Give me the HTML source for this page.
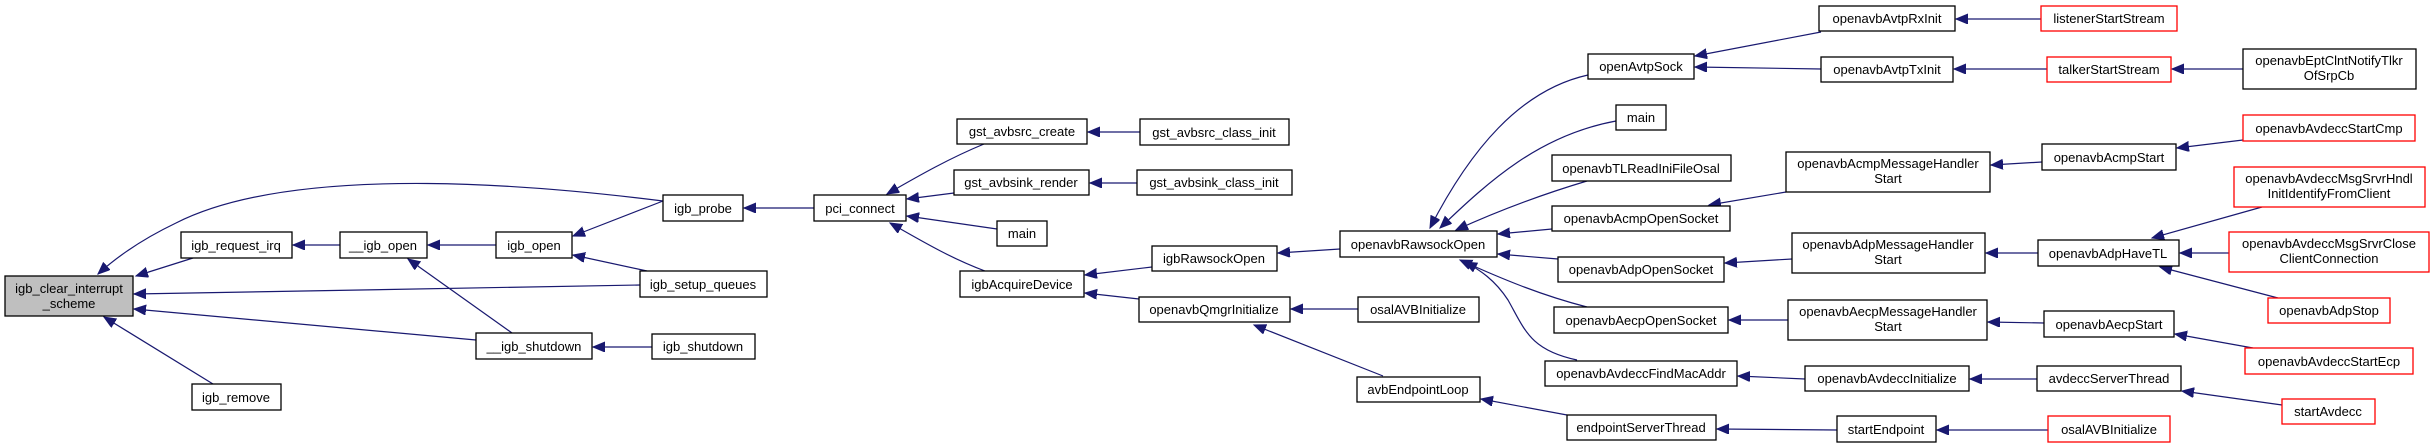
<!DOCTYPE html>
<html><head><meta charset="utf-8"><style>
html,body{margin:0;padding:0;background:#fff;}
svg{display:block;}
text{font-family:"Liberation Sans",Arial,sans-serif;font-size:13px;fill:#000;text-anchor:middle;}
.n{fill:#fff;stroke:#000;stroke-width:1.3;}
.r{fill:#fff;stroke:#ff0000;stroke-width:1.3;}
.g{fill:#bfbfbf;stroke:#000;stroke-width:1.3;}
.e{fill:none;stroke:#191970;stroke-width:1.2;marker-end:url(#a);}
</style></head><body>
<svg width="2431" height="448" viewBox="0 0 2431 448" xmlns="http://www.w3.org/2000/svg">
<defs><marker id="a" markerUnits="userSpaceOnUse" markerWidth="14" markerHeight="12" refX="12" refY="5" orient="auto"><path d="M0,0 L12,5 L0,10 z" fill="#191970" stroke="#191970"/></marker></defs>

<!-- edges -->
<path class="e" d="M193,258 L136,276"/>
<path class="e" d="M663,201 C560,188 300,160 176,223 Q130,245 98,274"/>
<path class="e" d="M640,285 L134,294"/>
<path class="e" d="M476,340 L134,309"/>
<path class="e" d="M213,384 L104,317"/>
<path class="e" d="M340,245 L293,245"/>
<path class="e" d="M496,245 L428,245"/>
<path class="e" d="M512,333 L408,259"/>
<path class="e" d="M663,201 L573,236"/>
<path class="e" d="M647,271 L573,255"/>
<path class="e" d="M652,347 L593,347"/>
<path class="e" d="M814,208 L744,208"/>
<path class="e" d="M984,144 C950,158 920,175 887,194"/>
<path class="e" d="M954,193 L907,199"/>
<path class="e" d="M997,229 L907,216"/>
<path class="e" d="M985,271 C950,258 920,240 890,223"/>
<path class="e" d="M1140,132 L1088,132"/>
<path class="e" d="M1137,183 L1090,183"/>
<path class="e" d="M1152,267 L1085,275"/>
<path class="e" d="M1139,299 L1085,293"/>
<path class="e" d="M1340,249 L1278,253"/>
<path class="e" d="M1358,309 L1291,309"/>
<path class="e" d="M1383,376 L1254,325"/>
<path class="e" d="M1567,415 L1481,399"/>
<path class="e" d="M1588,75 C1520,90 1470,150 1430,228"/>
<path class="e" d="M1616,121 C1540,135 1490,180 1440,228"/>
<path class="e" d="M1587,181 C1540,195 1500,210 1456,230"/>
<path class="e" d="M1552,229 L1498,234"/>
<path class="e" d="M1558,259 L1498,254"/>
<path class="e" d="M1587,307 C1540,295 1500,278 1460,260"/>
<path class="e" d="M1577,360 C1530,350 1525,330 1508,300 C1495,280 1480,270 1465,262"/>
<path class="e" d="M1821,32 L1695,56"/>
<path class="e" d="M1821,69 L1695,67"/>
<path class="e" d="M2041,19 L1956,19"/>
<path class="e" d="M2047,69 L1954,69"/>
<path class="e" d="M2243,69 L2172,69"/>
<path class="e" d="M1786,192 L1709,205"/>
<path class="e" d="M2042,162 L1991,165"/>
<path class="e" d="M2243,140 L2177,148"/>
<path class="e" d="M1792,259 L1725,263"/>
<path class="e" d="M2038,253 L1986,253"/>
<path class="e" d="M2262,207 L2152,238"/>
<path class="e" d="M2229,253 L2180,253"/>
<path class="e" d="M2278,298 L2160,267"/>
<path class="e" d="M1788,320 L1729,320"/>
<path class="e" d="M2044,323 L1988,322"/>
<path class="e" d="M2253,348 L2175,334"/>
<path class="e" d="M1805,379 L1738,376"/>
<path class="e" d="M2037,379 L1970,379"/>
<path class="e" d="M2282,405 L2182,391"/>
<path class="e" d="M1837,430 L1717,429"/>
<path class="e" d="M2048,430 L1937,430"/>

<!-- nodes -->
<rect class="g" x="5" y="276" width="128" height="40"/><text x="69" y="293">igb_clear_interrupt</text><text x="69" y="308">_scheme</text>
<rect class="n" x="181" y="232" width="111" height="26"/><text x="236" y="250">igb_request_irq</text>
<rect class="n" x="340" y="232" width="87" height="26"/><text x="383" y="250">__igb_open</text>
<rect class="n" x="496" y="232" width="76" height="26"/><text x="534" y="250">igb_open</text>
<rect class="n" x="663" y="195" width="80" height="26"/><text x="703" y="213">igb_probe</text>
<rect class="n" x="640" y="271" width="127" height="26"/><text x="703" y="289">igb_setup_queues</text>
<rect class="n" x="476" y="333" width="116" height="26"/><text x="534" y="351">__igb_shutdown</text>
<rect class="n" x="652" y="334" width="103" height="25"/><text x="703" y="351">igb_shutdown</text>
<rect class="n" x="192" y="384" width="89" height="26"/><text x="236" y="402">igb_remove</text>
<rect class="n" x="814" y="195" width="92" height="26"/><text x="860" y="213">pci_connect</text>
<rect class="n" x="957" y="119" width="130" height="25"/><text x="1022" y="136">gst_avbsrc_create</text>
<rect class="n" x="954" y="170" width="135" height="25"/><text x="1021" y="187">gst_avbsink_render</text>
<rect class="n" x="997" y="221" width="50" height="25"/><text x="1022" y="238">main</text>
<rect class="n" x="960" y="271" width="124" height="26"/><text x="1022" y="289">igbAcquireDevice</text>
<rect class="n" x="1140" y="119" width="149" height="26"/><text x="1214" y="137">gst_avbsrc_class_init</text>
<rect class="n" x="1137" y="170" width="155" height="25"/><text x="1214" y="187">gst_avbsink_class_init</text>
<rect class="n" x="1152" y="246" width="125" height="25"/><text x="1214" y="263">igbRawsockOpen</text>
<rect class="n" x="1139" y="297" width="151" height="25"/><text x="1214" y="314">openavbQmgrInitialize</text>
<rect class="n" x="1340" y="231" width="157" height="26"/><text x="1418" y="249">openavbRawsockOpen</text>
<rect class="n" x="1358" y="297" width="121" height="25"/><text x="1418" y="314">osalAVBInitialize</text>
<rect class="n" x="1357" y="377" width="123" height="25"/><text x="1418" y="394">avbEndpointLoop</text>
<rect class="n" x="1588" y="54" width="106" height="25"/><text x="1641" y="71">openAvtpSock</text>
<rect class="n" x="1616" y="105" width="50" height="25"/><text x="1641" y="122">main</text>
<rect class="n" x="1552" y="155" width="179" height="26"/><text x="1641" y="173">openavbTLReadIniFileOsal</text>
<rect class="n" x="1552" y="206" width="178" height="25"/><text x="1641" y="223">openavbAcmpOpenSocket</text>
<rect class="n" x="1558" y="257" width="166" height="25"/><text x="1641" y="274">openavbAdpOpenSocket</text>
<rect class="n" x="1554" y="307" width="174" height="26"/><text x="1641" y="325">openavbAecpOpenSocket</text>
<rect class="n" x="1545" y="361" width="192" height="25"/><text x="1641" y="378">openavbAvdeccFindMacAddr</text>
<rect class="n" x="1567" y="415" width="149" height="25"/><text x="1641" y="432">endpointServerThread</text>
<rect class="n" x="1819" y="6" width="136" height="25"/><text x="1887" y="23">openavbAvtpRxInit</text>
<rect class="n" x="1821" y="57" width="132" height="25"/><text x="1887" y="74">openavbAvtpTxInit</text>
<rect class="n" x="1786" y="152" width="204" height="40"/><text x="1888" y="168">openavbAcmpMessageHandler</text><text x="1888" y="183">Start</text>
<rect class="n" x="1792" y="233" width="193" height="40"/><text x="1888" y="249">openavbAdpMessageHandler</text><text x="1888" y="264">Start</text>
<rect class="n" x="1788" y="300" width="199" height="40"/><text x="1888" y="316">openavbAecpMessageHandler</text><text x="1888" y="331">Start</text>
<rect class="n" x="1805" y="366" width="164" height="25"/><text x="1887" y="383">openavbAvdeccInitialize</text>
<rect class="n" x="1837" y="416" width="99" height="26"/><text x="1886" y="434">startEndpoint</text>
<rect class="r" x="2041" y="6" width="136" height="25"/><text x="2109" y="23">listenerStartStream</text>
<rect class="r" x="2047" y="57" width="124" height="25"/><text x="2109" y="74">talkerStartStream</text>
<rect class="n" x="2042" y="144" width="134" height="26"/><text x="2109" y="162">openavbAcmpStart</text>
<rect class="n" x="2038" y="240" width="141" height="26"/><text x="2108" y="258">openavbAdpHaveTL</text>
<rect class="n" x="2044" y="311" width="130" height="26"/><text x="2109" y="329">openavbAecpStart</text>
<rect class="n" x="2037" y="366" width="144" height="25"/><text x="2109" y="383">avdeccServerThread</text>
<rect class="r" x="2048" y="416" width="122" height="26"/><text x="2109" y="434">osalAVBInitialize</text>
<rect class="n" x="2243" y="49" width="173" height="40"/><text x="2329" y="65">openavbEptClntNotifyTlkr</text><text x="2329" y="80">OfSrpCb</text>
<rect class="r" x="2243" y="115" width="172" height="26"/><text x="2329" y="133">openavbAvdeccStartCmp</text>
<rect class="r" x="2234" y="167" width="191" height="40"/><text x="2329" y="183">openavbAvdeccMsgSrvrHndl</text><text x="2329" y="198">InitIdentifyFromClient</text>
<rect class="r" x="2229" y="232" width="200" height="40"/><text x="2329" y="248">openavbAvdeccMsgSrvrClose</text><text x="2329" y="263">ClientConnection</text>
<rect class="r" x="2268" y="298" width="122" height="25"/><text x="2329" y="315">openavbAdpStop</text>
<rect class="r" x="2245" y="348" width="168" height="26"/><text x="2329" y="366">openavbAvdeccStartEcp</text>
<rect class="r" x="2282" y="399" width="93" height="25"/><text x="2328" y="416">startAvdecc</text>
</svg>
</body></html>
